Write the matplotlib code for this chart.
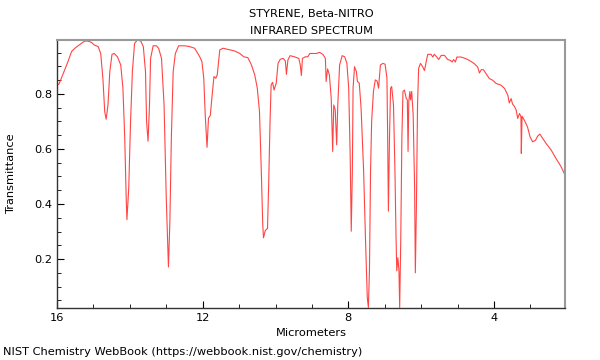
import matplotlib
matplotlib.use("Agg")
import matplotlib.pyplot as plt
from matplotlib.ticker import MultipleLocator

# spectrum (micrometers, transmittance)
microns = [
    16.00, 15.95, 15.88, 15.79, 15.70, 15.60, 15.51, 15.37, 15.24, 15.15, 15.05,
    14.98, 14.87, 14.80, 14.74, 14.69, 14.65, 14.60, 14.55, 14.49, 14.43, 14.34,
    14.25, 14.19, 14.14, 14.10, 14.08, 14.03, 13.98, 13.93, 13.87, 13.79, 13.70,
    13.63, 13.57, 13.54, 13.50, 13.46, 13.43, 13.36, 13.27, 13.21, 13.13, 13.06,
    13.00, 12.94, 12.90, 12.86, 12.81, 12.75, 12.66, 12.49, 12.36, 12.22, 12.08,
    12.02, 11.97, 11.93, 11.88, 11.84, 11.79, 11.74, 11.69, 11.64, 11.60, 11.53,
    11.44, 11.31, 11.12, 10.98, 10.87, 10.76, 10.66, 10.57, 10.50, 10.44, 10.39,
    10.35, 10.33, 10.28, 10.22, 10.19, 10.15, 10.12, 10.08, 10.04, 9.98, 9.93,
    9.87, 9.79, 9.73, 9.70, 9.66, 9.60, 9.48, 9.36, 9.32, 9.29, 9.26, 9.18,
    9.11, 9.06, 8.88, 8.79, 8.70, 8.63, 8.61, 8.57, 8.52, 8.47, 8.43, 8.40,
    8.36, 8.32, 8.29, 8.24, 8.17, 8.10, 8.04, 7.99, 7.95, 7.92, 7.89, 7.87,
    7.83, 7.78, 7.75, 7.70, 7.65, 7.58, 7.53, 7.48, 7.45, 7.42, 7.39, 7.36,
    7.31, 7.26, 7.21, 7.17, 7.12, 7.05, 6.99, 6.94, 6.92, 6.90, 6.87, 6.84,
    6.81, 6.76, 6.72, 6.69, 6.67, 6.64, 6.61, 6.59, 6.56, 6.53, 6.50, 6.46,
    6.41, 6.38, 6.36, 6.34, 6.31, 6.29, 6.26, 6.22, 6.18, 6.16, 6.13, 6.10,
    6.07, 6.02, 5.96, 5.91, 5.86, 5.82, 5.73, 5.68, 5.64, 5.57, 5.52, 5.45,
    5.36, 5.27, 5.20, 5.15, 5.11, 5.06, 5.02, 4.90, 4.77, 4.68, 4.54, 4.45,
    4.40, 4.35, 4.29, 4.22, 4.13, 4.04, 3.94, 3.81, 3.71, 3.62, 3.58, 3.53,
    3.49, 3.44, 3.39, 3.35, 3.30, 3.26, 3.25, 3.23, 3.17, 3.08, 3.01, 2.94,
    2.86, 2.80, 2.74, 2.66, 2.57, 2.43, 2.30, 2.16, 2.05,
]
transmittance = [
    0.833, 0.835, 0.857, 0.887, 0.917, 0.954, 0.966, 0.980, 0.992, 0.992, 0.987,
    0.978, 0.972, 0.947, 0.857, 0.736, 0.708, 0.760, 0.881, 0.944, 0.947, 0.935,
    0.905, 0.821, 0.640, 0.422, 0.343, 0.458, 0.700, 0.881, 0.984, 0.996, 0.992,
    0.972, 0.881, 0.700, 0.628, 0.760, 0.929, 0.975, 0.975, 0.966, 0.929, 0.760,
    0.422, 0.171, 0.338, 0.640, 0.881, 0.947, 0.975, 0.975, 0.972, 0.966, 0.935,
    0.917, 0.857, 0.724, 0.606, 0.712, 0.722, 0.796, 0.863, 0.857, 0.869, 0.960,
    0.966, 0.962, 0.956, 0.947, 0.935, 0.932, 0.905, 0.869, 0.821, 0.736, 0.519,
    0.325, 0.277, 0.304, 0.311, 0.458, 0.700, 0.833, 0.842, 0.814, 0.839, 0.911,
    0.926, 0.929, 0.920, 0.871, 0.923, 0.939, 0.935, 0.929, 0.905, 0.867, 0.929,
    0.935, 0.935, 0.947, 0.947, 0.951, 0.944, 0.929, 0.845, 0.891, 0.869, 0.784,
    0.591, 0.760, 0.742, 0.615, 0.760, 0.905, 0.939, 0.935, 0.911, 0.821, 0.579,
    0.301, 0.519, 0.821, 0.899, 0.881, 0.845, 0.839, 0.748, 0.519, 0.277, 0.060,
    0.024, 0.157, 0.519, 0.700, 0.810, 0.851, 0.847, 0.821, 0.905, 0.911, 0.908,
    0.857, 0.640, 0.374, 0.640, 0.821, 0.827, 0.760, 0.519, 0.277, 0.157, 0.205,
    0.157, 0.024, 0.277, 0.640, 0.809, 0.814, 0.784, 0.778, 0.591, 0.772, 0.809,
    0.778, 0.809, 0.724, 0.458, 0.150, 0.398, 0.760, 0.893, 0.911, 0.899, 0.885,
    0.917, 0.944, 0.944, 0.934, 0.944, 0.934, 0.925, 0.940, 0.940, 0.925, 0.922,
    0.916, 0.925, 0.916, 0.934, 0.934, 0.928, 0.922, 0.910, 0.898, 0.876, 0.888,
    0.888, 0.874, 0.856, 0.850, 0.838, 0.832, 0.820, 0.795, 0.767, 0.783, 0.763,
    0.755, 0.741, 0.711, 0.729, 0.717, 0.584, 0.719, 0.705, 0.680, 0.644, 0.626,
    0.632, 0.647, 0.654, 0.638, 0.620, 0.596, 0.566, 0.536, 0.505,
]

FS = 8.2

fig = plt.figure(figsize=(6, 3.6), dpi=100)
ax = fig.add_axes([0.095, 0.1444, 0.8467, 0.7445])

ax.plot(microns, transmittance, color='#ff3030', linewidth=0.8, alpha=0.9)

ax.set_xlim(16, 2.05)
ax.set_ylim(0.022, 0.996)
ax.xaxis.set_major_locator(MultipleLocator(4))
ax.xaxis.set_minor_locator(MultipleLocator(1))
ax.yaxis.set_major_locator(MultipleLocator(0.2))
ax.yaxis.set_minor_locator(MultipleLocator(0.05))
ax.tick_params(which='both', direction='in', top=False, right=False, labelsize=FS)
ax.tick_params(which='major', length=5, width=0.8)
ax.tick_params(which='minor', length=3, width=0.6)

for side in ('top', 'right'):
    ax.spines[side].set_color('#999999')
    ax.spines[side].set_linewidth(1.5)
for side in ('left', 'bottom'):
    ax.spines[side].set_color('#333333')
    ax.spines[side].set_linewidth(1.0)

ax.set_xlabel('Micrometers', fontsize=FS, labelpad=4)
ax.set_ylabel('Transmittance', fontsize=FS)
ax.yaxis.set_label_coords(-0.081, 0.5)
ax.set_title('STYRENE, Beta-NITRO\nINFRARED SPECTRUM', fontsize=FS, pad=4, linespacing=1.95)

fig.text(0.005, 0.008, 'NIST Chemistry WebBook (https://webbook.nist.gov/chemistry)',
         fontsize=FS, ha='left', va='bottom')

fig.savefig('out.png', dpi=100)
